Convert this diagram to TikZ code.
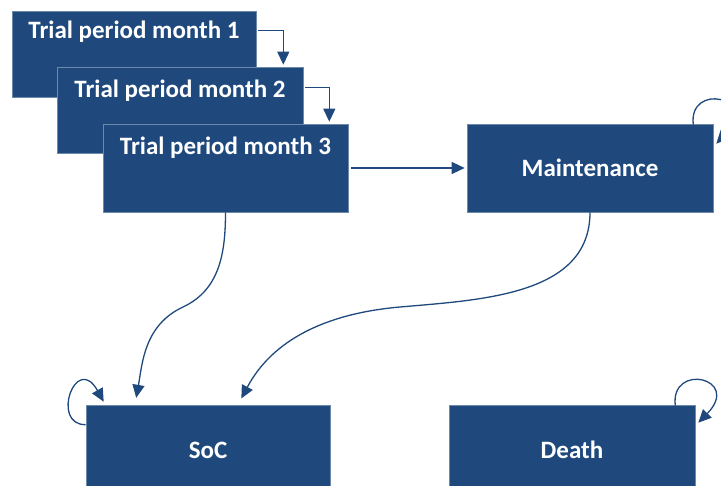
\documentclass[tikz,border=0pt]{standalone}
\usepackage{fontspec}
\setmainfont{Carlito}
\usetikzlibrary{arrows.meta}
\definecolor{boxblue}{HTML}{1F497D}
\begin{document}
\begin{tikzpicture}[x=1pt,y=-1pt,
  box/.style={rectangle, fill=boxblue, draw=boxblue!65!white, line width=0.6pt, inner sep=0pt},
  lbl/.style={anchor=base, inner sep=0pt, text=white, font=\bfseries\fontsize{25}{29}\selectfont},
  arr/.style={draw=boxblue, line width=1.3pt, -{Triangle[length=13pt,width=12pt]}}]
\clip (0,0) rectangle (721,486);
% trial boxes
\node[box, minimum width=244pt, minimum height=86pt] (b1) at (134,54) {};
\node[lbl] (t1) at ([yshift=-28pt]b1.north) {Trial period month 1};
\node[box, minimum width=246pt, minimum height=86pt] (b2) at (180,110) {};
\node[lbl] (t2) at ([yshift=-30.5pt]b2.north) {Trial period month 2};
\node[box, minimum width=245pt, minimum height=88pt] (b3) at (225.5,168) {};
\node[lbl] (t3) at ([yshift=-31pt]b3.north) {Trial period month 3};
% other states
\node[box, minimum width=246pt, minimum height=88pt] (mt) at (590,168) {};
\node[lbl, anchor=center] (tm) at (mt.center) {Maintenance};
\node[box, minimum width=244pt, minimum height=90pt] (soc) at (208,450) {};
\node[lbl, anchor=center] (ts) at (soc.center) {SoC};
\node[box, minimum width=246pt, minimum height=90pt] (dth) at (572,450) {};
\node[lbl, anchor=center] (td) at (dth.center) {Death};
% elbow arrows
\draw[arr, shorten <=2pt, shorten >=2pt] ([yshift=-20pt]b1.north east) -| ([xshift=-20pt]b2.north east);
\draw[arr, shorten <=2pt, shorten >=2pt] ([yshift=-21pt]b2.north east) -| ([xshift=-19pt]b3.north east);
% straight arrow
\draw[arr, shorten <=3pt, shorten >=2pt] (b3.east) -- (mt.west);
% curves to SoC
\coordinate (m1) at (183,307);
\coordinate (m2) at (400,307);
\draw[arr, shorten >=7pt] (b3.south) to[out=-90,in=25] (m1) to[out=205,in=80] ([xshift=-73pt]soc.north);
\draw[arr, shorten >=7pt] (mt.south) to[out=-90,in=5] (m2) to[out=185,in=62] ([xshift=30pt]soc.north);
% self loops
\coordinate (s1) at ([yshift=-20pt]soc.north west);
\coordinate (e1) at ([xshift=18pt,yshift=3pt]soc.north west);
\draw[arr] (s1) .. controls (50,425) and (76,352) .. (e1);
\coordinate (s2) at ([xshift=-20pt,yshift=-1pt]dth.north east);
\coordinate (e2) at ([xshift=3pt,yshift=-18pt]dth.north east);
\draw[arr] (s2) .. controls (670,362) and (742,378) .. (e2);
\coordinate (s3) at ([xshift=-20pt,yshift=-1pt]mt.north east);
\coordinate (e3) at ([xshift=3pt,yshift=-20pt]mt.north east);
\draw[arr] (s3) .. controls (688,82) and (760,97) .. (e3);
\end{tikzpicture}
\end{document}
